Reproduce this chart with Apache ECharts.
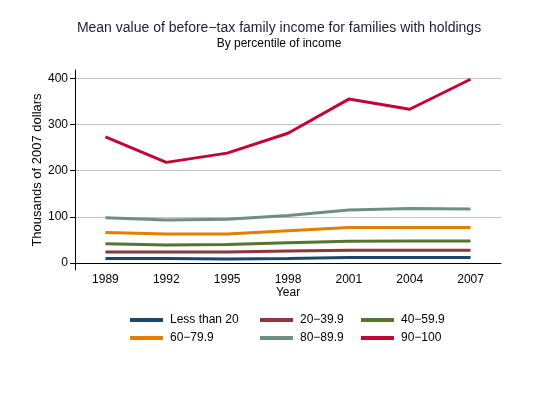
<!DOCTYPE html>
<html><head><meta charset="utf-8">
<script src="https://cdn.jsdelivr.net/npm/echarts@6/dist/echarts.min.js"></script>
<style>html,body{margin:0;padding:0;background:#fff}#c{width:558px;height:413px}</style>
</head><body><div id="c"></div>
<script>
const years = ['1989','1992','1995','1998','2001','2004','2007'];
const yTicks = [0,100,200,300,400];
const lessThan20 = [10,10,9,10,12,12,12];
const p20_39 = [24,24,24,26,28,28,28];
const p40_59 = [42,39,40,44,47,48,48];
const p60_79 = [66,63,63,70,77,77,77];
const p80_89 = [98,93,95,103,115,118,117];
const p90_100 = [273,218,238,281,355,333,398];
const seriesNames = ['Less than 20','20\u221239.9','40\u221259.9','60\u221279.9','80\u221289.9','90\u2212100'];
const seriesData = [lessThan20,p20_39,p40_59,p60_79,p80_89,p90_100];
const colors = ['#1a476f','#90353b','#55752f','#e37e00','#6e8e84','#c10534'];

const font = 'Liberation Sans, Arial, sans-serif';
const legendPos = [[130,314],[260,314],[361,314],[130,332],[260,332],[361,332]];
const chart = echarts.init(document.getElementById('c'), null, {renderer:'canvas'});
chart.setOption({
  animation:false,
  textStyle:{fontFamily:font},
  title:{
    text:'Mean value of before\u2212tax family income for families with holdings',
    subtext:'By percentile of income',
    left:'center', top:16, itemGap:3,
    textStyle:{fontSize:14, fontWeight:'normal', color:'#1c1c3a', fontFamily:font},
    subtextStyle:{fontSize:12, color:'#000', fontFamily:font}
  },
  legend: seriesNames.map((n,i)=>({
    data:[n], left:legendPos[i][0], top:legendPos[i][1], orient:'horizontal',
    itemWidth:33, itemHeight:4, itemGap:0, padding:0,
    icon:'rect',
    textStyle:{fontSize:12, color:'#000', fontFamily:font, padding:[0,0,0,2]}
  })),
  grid:{left:75, right:57, top:70, bottom:143, containLabel:false},
  xAxis:{
    type:'category', data:years, boundaryGap:true,
    name:'Year', nameLocation:'middle', nameGap:17, nameMoveOverlap:false,
    nameTextStyle:{fontSize:12, color:'#000'},
    axisLine:{lineStyle:{color:'#000', width:1}},
    axisTick:{alignWithLabel:true, length:5, lineStyle:{color:'#000'}},
    axisLabel:{fontSize:12, color:'#000', margin:4}
  },
  yAxis:{
    type:'value', min:-15, max:418,
    name:'Thousands of 2007 dollars', nameLocation:'middle', nameGap:31, nameMoveOverlap:false,
    nameTextStyle:{fontSize:13, color:'#000'},
    axisLine:{show:true, lineStyle:{color:'#000', width:1}},
    axisTick:{show:true, length:5, customValues:yTicks, lineStyle:{color:'#000'}},
    axisLabel:{fontSize:12, color:'#000', margin:7, customValues:yTicks},
    splitLine:{show:true, lineStyle:{color:'#c0c0c0', width:1}}
  },
  series: seriesNames.map((n,i)=>({
    name:n, type:'line', data:seriesData[i], showSymbol:false, symbol:'none',
    lineStyle:{width:3, color:colors[i]}, itemStyle:{color:colors[i]}
  }))
});
</script></body></html>
